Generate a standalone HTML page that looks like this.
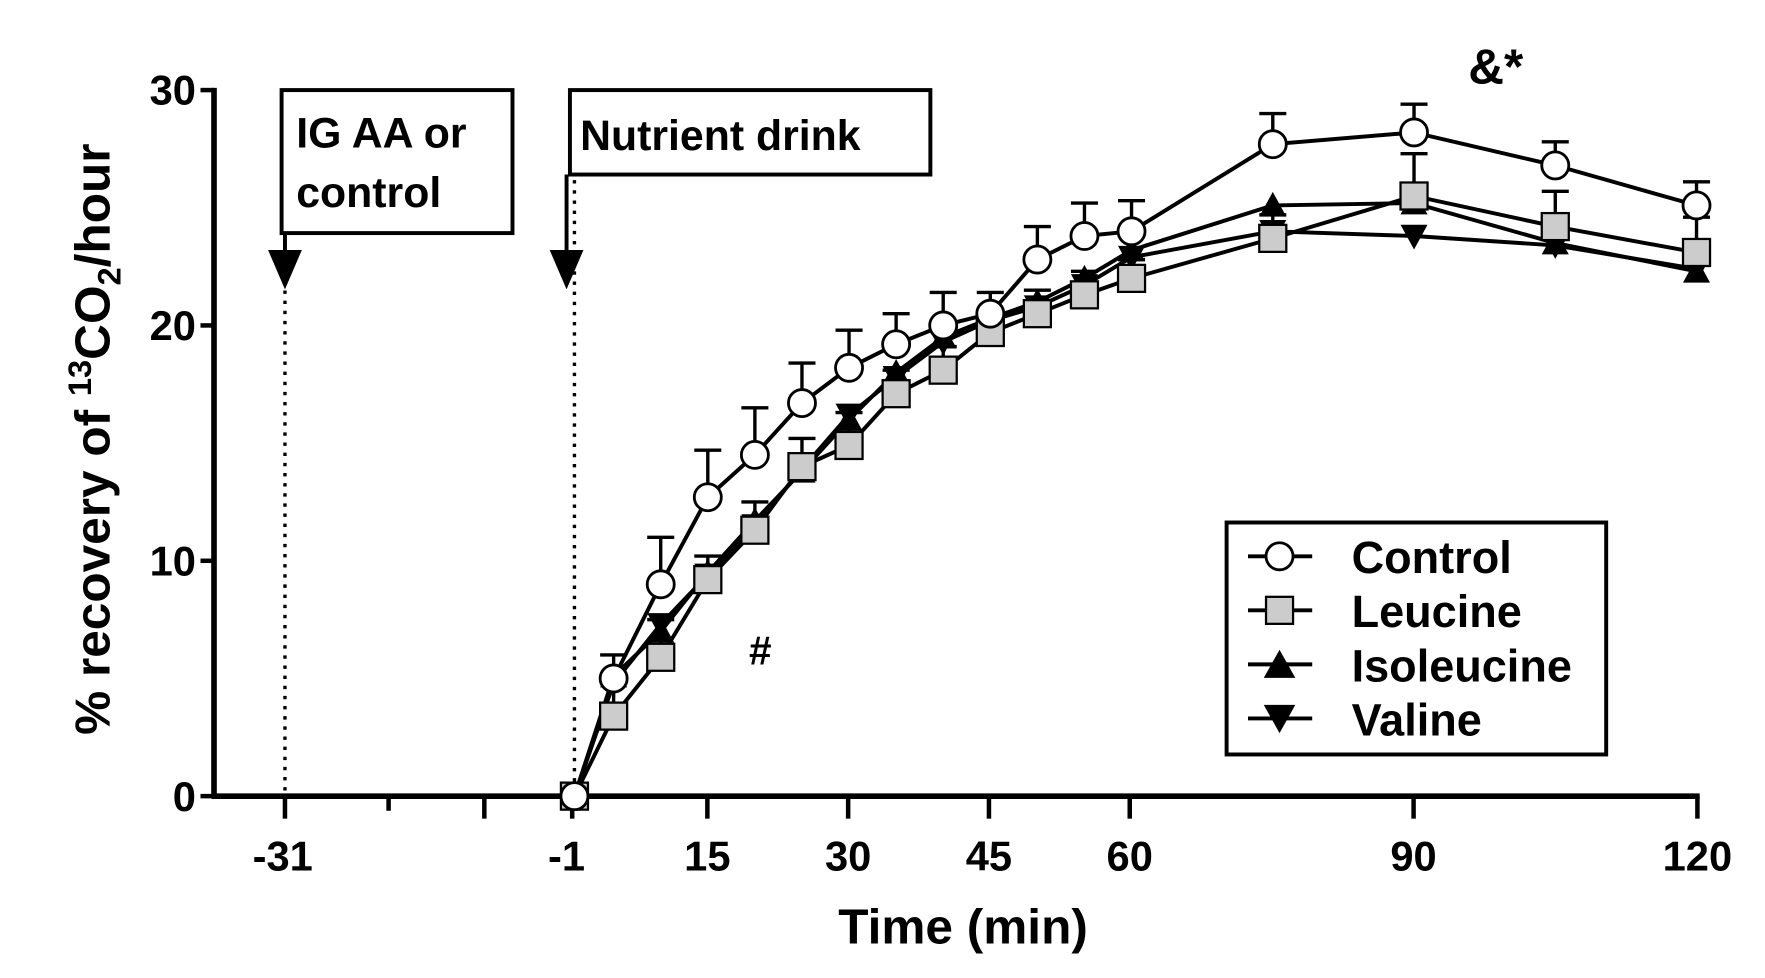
<!DOCTYPE html>
<html><head><meta charset="utf-8">
<style>html,body{margin:0;padding:0;background:#fff;}svg{display:block;}
text{font-family:"Liberation Sans",Arial,sans-serif;font-weight:bold;fill:#000;}</style></head>
<body>
<svg id="s" width="1765" height="978" viewBox="0 0 1567 868.5" preserveAspectRatio="none" xmlns="http://www.w3.org/2000/svg">
<rect width="1567" height="868.5" fill="#fff"/>
<line x1="190" y1="78" x2="190" y2="709" stroke="#000" stroke-width="5"/>
<line x1="188" y1="707" x2="1509" y2="707" stroke="#000" stroke-width="5"/>
<g stroke="#000" stroke-width="4">
<line x1="178" y1="80" x2="190" y2="80"/><line x1="178" y1="289" x2="190" y2="289"/><line x1="178" y1="498" x2="190" y2="498"/><line x1="178" y1="707" x2="190" y2="707"/>
<line x1="253" y1="707" x2="253" y2="727"/><line x1="345" y1="707" x2="345" y2="720"/><line x1="430" y1="707" x2="430" y2="727"/>
<line x1="508" y1="707" x2="508" y2="727"/><line x1="628" y1="707" x2="628" y2="727"/><line x1="753" y1="707" x2="753" y2="727"/>
<line x1="878" y1="707" x2="878" y2="727"/><line x1="1003" y1="707" x2="1003" y2="727"/><line x1="1255" y1="707" x2="1255" y2="727"/><line x1="1507" y1="707" x2="1507" y2="727"/>
</g>
<g font-size="37" text-anchor="end">
<text x="174" y="93">30</text><text x="174" y="302">20</text><text x="174" y="511">10</text><text x="174" y="720">0</text>
</g>
<g font-size="37" text-anchor="middle">
<text x="251" y="773">-31</text><text x="503" y="773">-1</text><text x="628" y="773">15</text><text x="753" y="773">30</text>
<text x="878" y="773">45</text><text x="1003" y="773">60</text><text x="1255" y="773">90</text><text x="1507" y="773">120</text>
</g>
<text x="855" y="838" font-size="44" text-anchor="middle">Time (min)</text>
<text transform="translate(97,390) rotate(-90)" font-size="44" text-anchor="middle">% recovery of <tspan dy="-16" font-size="29">13</tspan><tspan dy="16">CO</tspan><tspan dy="10" font-size="29">2</tspan><tspan dy="-10">/hour</tspan></text>
<rect x="250" y="80" width="205" height="127" fill="#fff" stroke="#000" stroke-width="3.5"/>
<text x="263" y="131" font-size="38">IG AA or</text><text x="263" y="184" font-size="38">control</text>
<rect x="506" y="80" width="320" height="75" fill="#fff" stroke="#000" stroke-width="3.5"/>
<text x="515" y="133" font-size="38">Nutrient drink</text>
<line x1="253" y1="207" x2="253" y2="225" stroke="#000" stroke-width="3.5"/>
<polygon points="238,222 268,222 253,257" fill="#000"/>
<line x1="253" y1="258" x2="253" y2="707" stroke="#000" stroke-width="3" stroke-dasharray="3,6"/>
<line x1="503" y1="155" x2="503" y2="225" stroke="#000" stroke-width="3.5"/>
<polygon points="488,222 518,222 503,257" fill="#000"/>
<line x1="510" y1="160" x2="510" y2="707" stroke="#000" stroke-width="3" stroke-dasharray="3,6"/>
<text x="1328" y="74" font-size="44" text-anchor="middle">&amp;*</text>
<text x="675" y="590" font-size="36" text-anchor="middle">#</text>
<g id="data"></g>
<rect x="1089" y="464" width="337" height="206" fill="#fff" stroke="#000" stroke-width="3.5"/>
<g stroke="#000" stroke-width="3.5">
<line x1="1108" y1="494" x2="1165" y2="494"/><line x1="1108" y1="542" x2="1165" y2="542"/>
<line x1="1108" y1="590" x2="1165" y2="590"/><line x1="1108" y1="638" x2="1165" y2="638"/>
</g>
<circle cx="1136" cy="494" r="12" fill="#fff" stroke="#000" stroke-width="2.5"/>
<rect x="1124" y="530" width="24" height="24" fill="#ccc" stroke="#000" stroke-width="2"/>
<polygon points="1122,602 1150,602 1136,577" fill="#000"/>
<polygon points="1122,626 1150,626 1136,651" fill="#000"/>
<g font-size="40"><text x="1200" y="509">Control</text><text x="1200" y="557">Leucine</text><text x="1200" y="605">Isoleucine</text><text x="1200" y="653">Valine</text></g>
</svg>
<script>
var T=[0,5,10,15,20,25,30,35,40,45,50,55,60,75,90,105,120];
var C=[0,5,9,12.7,14.5,16.7,18.2,19.2,20,20.5,22.8,23.8,24,27.7,28.2,26.8,25.1];
var CE=[0,1,2,2,2,1.7,1.6,1.3,1.4,0.9,1.4,1.4,1.3,1.3,1.2,1.0,1.0];
var L=[0,3.4,5.9,9.2,11.3,14,14.9,17.1,18.1,19.7,20.5,21.3,22,23.7,25.5,24.2,23.1];
var LE=[0,1.5,1.6,1,1.2,1.2,1.4,1,1,0.8,1,1,0.8,1,1.8,1.5,1.5];
var I=[0,5.1,7,9.5,11.7,13.8,16,18,19.5,20.3,21,22,23.2,25.1,25.2,23.5,22.3];
var V=[0,4.8,7.3,9.4,11.5,13.9,16.2,17.8,19.3,20.2,20.8,21.7,22.9,24,23.8,23.4,22.4];
function X(t){return t==0?510:503+t*8.36;}function Y(v){return 707-v*20.9;}
var g=document.getElementById('data'),h='';
function line(d){return '<polyline fill="none" stroke="#000" stroke-width="3.5" points="'+T.map(function(t,i){return X(t)+','+Y(d[i])}).join(' ')+'"/>';}
function err(d,e){var s='';T.forEach(function(t,i){if(e[i]>0){var x=X(t),y1=Y(d[i]),y2=Y(d[i]+e[i]);s+='<line x1="'+x+'" y1="'+y1+'" x2="'+x+'" y2="'+y2+'" stroke="#000" stroke-width="3"/><line x1="'+(x-12)+'" y1="'+y2+'" x2="'+(x+12)+'" y2="'+y2+'" stroke="#000" stroke-width="3"/>';}});return s;}
h+=err(C,CE)+err(L,LE);
h+=line(V)+line(I)+line(L)+line(C);
T.forEach(function(t,i){var x=X(t),y=Y(V[i]);h+='<polygon points="'+(x-12)+','+(y-10)+' '+(x+12)+','+(y-10)+' '+x+','+(y+12)+'" fill="#000"/>';});
T.forEach(function(t,i){var x=X(t),y=Y(I[i]);h+='<polygon points="'+(x-12)+','+(y+10)+' '+(x+12)+','+(y+10)+' '+x+','+(y-12)+'" fill="#000"/>';});
T.forEach(function(t,i){var x=X(t),y=Y(L[i]);h+='<rect x="'+(x-12)+'" y="'+(y-12)+'" width="24" height="24" fill="#ccc" stroke="#000" stroke-width="2"/>';});
T.forEach(function(t,i){var x=X(t),y=Y(C[i]);h+='<circle cx="'+x+'" cy="'+y+'" r="12" fill="#fff" stroke="#000" stroke-width="2.5"/>';});
g.innerHTML=h;
</script>
</body></html>
